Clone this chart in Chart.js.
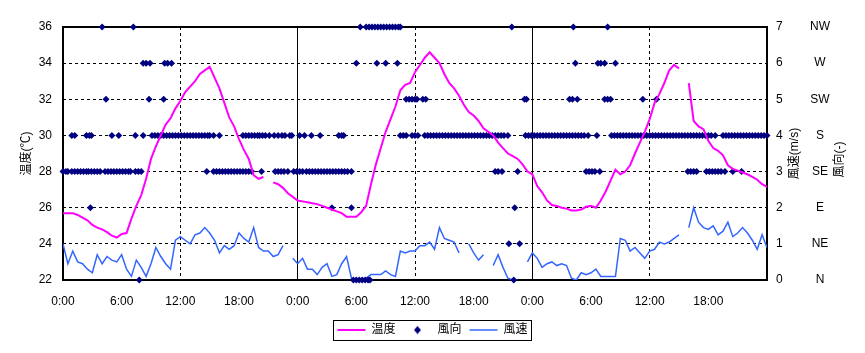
<!DOCTYPE html>
<html>
<head>
<meta charset="utf-8">
<script src="https://cdn.jsdelivr.net/npm/chart.js@4.4.1/dist/chart.umd.min.js"></script>
<style>
  body { margin: 0; background: #fff; }
  #wrap { width: 865px; height: 353px; }
</style>
</head>
<body>
<div id="wrap"><canvas id="myChart"></canvas></div>
<script>
// 30 minute samples, 0:00 day 1 to 0:00 day 4
const temperature = [
  25.7, 25.7, 25.7, 25.6, 25.45, 25.3, 25.05, 24.9, 24.8, 24.65, 24.45, 24.35,
  24.55, 24.6, 25.4, 26.1, 26.7, 27.6, 28.7, 29.4, 30.0, 30.6, 30.95, 31.5,
  31.9, 32.4, 32.7, 33.0, 33.4, 33.6, 33.8, 33.2, 32.6, 31.8, 31.0, 30.5,
  29.8, 29.2, 28.7, 27.8, 27.6, 27.7, null, 27.4, 27.3, 27.1, 26.8, 26.6,
  26.4, 26.35, 26.3, 26.25, 26.2, 26.1, 26.0, 25.9, 25.8, 25.7, 25.5, 25.5,
  25.5, 25.75, 26.1, 27.3, 28.4, 29.3, 30.2, 30.9, 31.6, 32.5, 32.8, 32.9,
  33.5, 33.9, 34.3, 34.6, 34.3, 34.0, 33.4, 32.9, 32.6, 32.2, 31.7, 31.3,
  31.1, 30.8, 30.4, 30.2, 30.0, 29.6, 29.3, 29.0, 28.85, 28.7, 28.4, 28.0,
  27.85, 27.2, 26.85, 26.4, 26.15, 26.1, 26.0, 25.95, 25.85, 25.85, 25.9, 26.05,
  26.1, 26.0, 26.4, 26.9, 27.5, 28.1, 27.85, 28.0, 28.35, 29.0, 29.6, 30.2,
  30.9, 31.8, 32.3, 32.9, 33.6, 33.9, 33.7, null, 32.9, 30.8, 30.5, 30.35,
  29.7, 29.3, 29.15, 28.9, 28.35, 28.15, 28.05, 27.95, 27.85, 27.7, 27.55, 27.3,
  27.15
];

const windSpeed = [
  1.0, 0.45, 0.8, 0.5, 0.45, 0.3, 0.2, 0.7, 0.45, 0.65, 0.55, 0.5,
  0.7, 0.3, 0.1, 0.55, 0.35, 0.1, 0.45, 0.9, 0.65, 0.45, 0.3, 1.1,
  1.2, 1.1, 1.0, 1.25, 1.3, 1.45, 1.3, 1.1, 0.75, 0.95, 0.85, 0.95,
  1.3, 1.15, 1.05, 1.45, 0.9, 0.8, 0.8, 0.65, 0.7, 0.95, null, 0.6,
  0.45, 0.6, 0.3, 0.3, 0.15, 0.35, 0.45, 0.1, 0.15, 0.45, 0.65, 0.05,
  0, 0, 0.05, 0.15, 0.15, 0.15, 0.25, 0.15, 0.1, 0.8, 0.75, 0.8,
  0.8, 0.95, 0.95, 1.05, 0.85, 1.45, 1.15, 1.1, 1.05, 0.75, null, 1.0,
  0.75, 0.55, 0.7, null, 0.4, 0.7, 0.35, 0.05, 0, 0, null, 0.5,
  0.75, 0.6, 0.35, 0.45, 0.5, 0.4, 0.45, 0.4, 0.05, 0.0, 0.2, 0.15,
  0.2, 0.3, 0.1, 0.1, 0.1, 0.1, 1.15, 1.1, 0.8, 0.9, 0.75, 0.6,
  0.8, 0.85, 1.05, 1.0, 1.05, 1.15, 1.25, null, 1.45, 2.0, 1.6, 1.45,
  1.4, 1.5, 1.25, 1.35, 1.6, 1.2, 1.3, 1.45, 1.3, 1.1, 0.85, 1.25,
  0.9
];

// wind direction: hours (from 0:00 day 1) at which each direction was recorded
const dirN  = [7.8, 29.7, 30.0, 30.3, 30.6, 30.9, 31.2, 31.4, 46.1];
const dirNE = [45.6, 46.7];
const dirE  = [2.8, 27.5, 29.5, 46.2];
const dirSE = [
  0.0, 0.3, 0.5, 0.9, 1.2, 1.5, 1.8, 2.1, 2.4, 2.6, 2.9, 3.2, 3.5, 3.8, 4.3, 4.6,
  4.9, 5.2, 5.5, 5.8, 6.1, 6.4, 6.7, 6.9, 7.4, 7.7, 8.0, 14.7, 15.4, 15.7, 16.0,
  16.3, 16.6, 16.9, 17.2, 17.5, 17.8, 18.1, 18.4, 18.7, 19.0, 19.3, 20.3, 21.7,
  22.0, 22.3, 22.6, 23.0, 23.6, 23.9, 24.2, 24.5, 24.9, 25.2, 25.5, 25.8, 26.1,
  26.4, 26.7, 27.0, 27.3, 27.6, 27.9, 28.2, 28.5, 28.8, 29.1, 29.5, 44.2, 44.5,
  44.9, 46.5, 53.5, 53.8, 54.1, 54.4, 54.9, 63.9, 64.2, 64.5, 64.8, 65.8, 66.1,
  66.4, 66.7, 67.0, 67.3, 67.7, 68.5, 69.4
];
const dirS = [
  0.9, 1.2, 2.4, 2.7, 2.9, 5.0, 5.7, 7.4, 8.2, 9.1, 9.4, 9.7, 10.0, 10.3, 10.6,
  10.9, 11.2, 11.5, 11.8, 12.1, 12.4, 12.7, 13.0, 13.3, 13.6, 13.9, 14.2, 14.5,
  14.8, 15.0, 15.4, 16.0, 18.4, 18.7, 19.0, 19.3, 19.6, 19.9, 20.1, 20.4, 20.7,
  21.1, 21.6, 22.0, 22.4, 22.7, 23.2, 23.4, 24.2, 24.7, 25.4, 26.3, 28.2, 28.5,
  28.7, 34.5, 34.8, 35.1, 35.7, 36.0, 36.3, 37.0, 37.3, 37.6, 37.9, 38.2, 38.5,
  38.8, 39.1, 39.4, 39.7, 40.0, 40.3, 40.6, 40.9, 41.2, 41.5, 41.8, 42.1, 42.4,
  42.7, 43.0, 43.3, 43.6, 43.9, 44.2, 44.5, 44.8, 45.1, 45.5, 47.3, 47.6, 47.9,
  48.2, 48.5, 48.8, 49.1, 49.4, 49.7, 50.0, 50.3, 50.6, 50.9, 51.2, 51.5, 51.8,
  52.1, 52.4, 52.7, 53.0, 53.3, 53.7, 54.6, 56.1, 56.4, 56.7, 57.0, 57.3, 57.6,
  57.9, 58.2, 58.5, 58.8, 59.1, 59.4, 59.7, 60.0, 60.3, 60.6, 60.9, 61.2, 61.5,
  61.8, 62.1, 62.4, 62.7, 63.0, 63.3, 63.6, 63.9, 64.2, 64.5, 64.8, 65.1, 65.4,
  65.7, 66.0, 66.3, 66.7, 67.5, 67.8, 68.1, 68.4, 68.7, 69.0, 69.3, 69.6, 69.9,
  70.2, 70.5, 70.8, 71.1, 71.4, 71.7, 72.0
];
const dirSW = [4.4, 8.8, 10.3, 35.1, 35.4, 35.7, 36.0, 36.2, 36.8, 37.1, 47.2, 47.4, 51.8, 52.1, 52.6, 55.4, 55.7, 56.0, 59.3, 60.7];
const dirW  = [8.2, 8.5, 8.9, 10.4, 10.7, 11.1, 30.0, 32.1, 33.0, 34.2, 52.4, 54.7, 55.0, 55.4, 56.5];
const dirNW = [4.0, 7.2, 30.4, 31.0, 31.3, 31.6, 31.9, 32.2, 32.5, 32.8, 33.1, 33.4, 33.7, 34.0, 34.3, 34.5, 45.9, 52.2, 55.7];

const dirNames = ['N', 'NE', 'E', 'SE', 'S', 'SW', 'W', 'NW'];
const dirLists = [dirN, dirNE, dirE, dirSE, dirS, dirSW, dirW, dirNW];

const tempPoints = temperature.map((v, i) => ({ x: i * 0.5, y: v }));
const windPoints = windSpeed.map((v, i) => ({ x: i * 0.5, y: v }));
const dirPoints = [];
dirLists.forEach((list, code) => list.forEach(h => dirPoints.push({ x: h, y: code })));

Chart.defaults.font.family = "'Liberation Sans', 'Noto Sans CJK JP', sans-serif";
Chart.defaults.font.size = 12;
Chart.defaults.color = '#000';

// small diamond for the legend entry of 風向
const diamond = document.createElement('canvas');
diamond.width = 9;
diamond.height = 9;
const dctx = diamond.getContext('2d');
dctx.fillStyle = '#000080';
dctx.beginPath();
dctx.moveTo(4.5, 0.5);
dctx.lineTo(8, 4.5);
dctx.lineTo(4.5, 8.5);
dctx.lineTo(1, 4.5);
dctx.closePath();
dctx.fill();

const boxPlugin = {
  id: 'boxPlugin',
  beforeDatasetsDraw(chart) {
    const { ctx, chartArea: a } = chart;
    ctx.save();
    ctx.strokeStyle = '#000';
    ctx.lineWidth = 2;
    ctx.strokeRect(a.left, a.top, a.right - a.left, a.bottom - a.top);
    ctx.restore();
  },
  afterDraw(chart) {
    const { ctx, chartArea: a, scales } = chart;
    const mid = (a.top + a.bottom) / 2;
    ctx.save();
    ctx.fillStyle = '#000';
    ctx.font = "12px 'Liberation Sans', 'Noto Sans CJK JP', sans-serif";
    ctx.textAlign = 'center';
    ctx.textBaseline = 'middle';
    [[scales.y1.right - 12, mid, '風速(m/s)'], [scales.y2.right - 25, mid + 6, '風向(-)']].forEach(t => {
      ctx.save();
      ctx.translate(t[0], t[1]);
      ctx.rotate(-Math.PI / 2);
      ctx.fillText(t[2], 0, 0);
      ctx.restore();
    });
    // frame round the legend
    const hb = chart.legend.legendHitBoxes;
    if (hb && hb.length) {
      const l = Math.min(...hb.map(b => b.left)) - 4;
      const r = Math.max(...hb.map(b => b.left + b.width)) + 4;
      const t = hb[0].top - 4;
      const b = hb[0].top + hb[0].height + 4;
      ctx.lineWidth = 1;
      ctx.strokeRect(Math.round(l) + 0.5, Math.round(t) + 0.5, Math.round(r - l), Math.round(b - t));
    }
    ctx.restore();
  }
};

const ctx = document.getElementById('myChart').getContext('2d');
const myChart = new Chart(ctx, {
  type: 'line',
  data: {
    datasets: [{
      label: '温度',
      data: tempPoints,
      yAxisID: 'y',
      borderColor: '#ff00ff',
      backgroundColor: '#ff00ff',
      borderWidth: 2,
      pointRadius: 0,
      pointStyle: 'line',
      tension: 0
    }, {
      label: '風向',
      data: dirPoints,
      yAxisID: 'y1',
      showLine: false,
      pointStyle: 'rectRot',
      pointRadius: 3.5,
      borderWidth: 0,
      backgroundColor: '#000080',
      borderColor: '#000080',
      clip: 6
    }, {
      label: '風速',
      data: windPoints,
      yAxisID: 'y1',
      borderColor: '#3366ff',
      backgroundColor: '#3366ff',
      borderWidth: 1.5,
      pointRadius: 0,
      pointStyle: 'line',
      tension: 0
    }]
  },
  options: {
    responsive: true,
    maintainAspectRatio: false,
    animation: false,
    layout: { padding: { top: 27, bottom: 7, left: 0, right: 0 } },
    plugins: {
      tooltip: { enabled: false },
      legend: {
        position: 'bottom',
        labels: {
          usePointStyle: true,
          pointStyleWidth: 28,
          boxHeight: 5,
          padding: 8,
          color: '#000',
          generateLabels: chart => Chart.defaults.plugins.legend.labels.generateLabels(chart).map(item => {
            if (item.datasetIndex === 1) item.pointStyle = diamond;
            return item;
          })
        }
      }
    },
    scales: {
      x: {
        type: 'linear',
        min: 0,
        max: 72,
        afterFit: s => { s.height = 36; },
        ticks: {
          stepSize: 6,
          autoSkip: false,
          maxRotation: 0,
          padding: 14,
          callback: v => v === 72 ? '' : (v % 24) + ':00'
        },
        grid: {
          drawTicks: false,
          color: c => (c.tick && c.tick.value % 12 === 0 && c.tick.value > 0 && c.tick.value < 72) ? '#000' : 'rgba(0,0,0,0)'
        },
        border: {
          display: false,
          dash: c => (c.tick && c.tick.value % 24 === 0) ? [] : [3, 3]
        }
      },
      y: {
        position: 'left',
        min: 22,
        max: 36,
        afterFit: s => { s.width = 63; },
        ticks: { stepSize: 2, padding: 11 },
        grid: { drawTicks: false, color: '#000' },
        border: { display: false, dash: [3, 3] },
        title: { display: true, text: '温度(℃)', padding: { top: 19, bottom: 0 } }
      },
      y1: {
        position: 'right',
        weight: 0,
        min: 0,
        max: 7,
        afterFit: s => { s.width = 40; },
        ticks: { stepSize: 1, padding: 9 },
        grid: { display: false, drawTicks: false },
        border: { display: false }
      },
      y2: {
        position: 'right',
        weight: 1,
        min: 0,
        max: 7,
        afterFit: s => { s.width = 58; },
        ticks: {
          stepSize: 1,
          padding: 3,
          crossAlign: 'center',
          callback: v => dirNames[v]
        },
        grid: { display: false, drawTicks: false },
        border: { display: false }
      }
    }
  },
  plugins: [boxPlugin]
});
</script>
</body>
</html>
